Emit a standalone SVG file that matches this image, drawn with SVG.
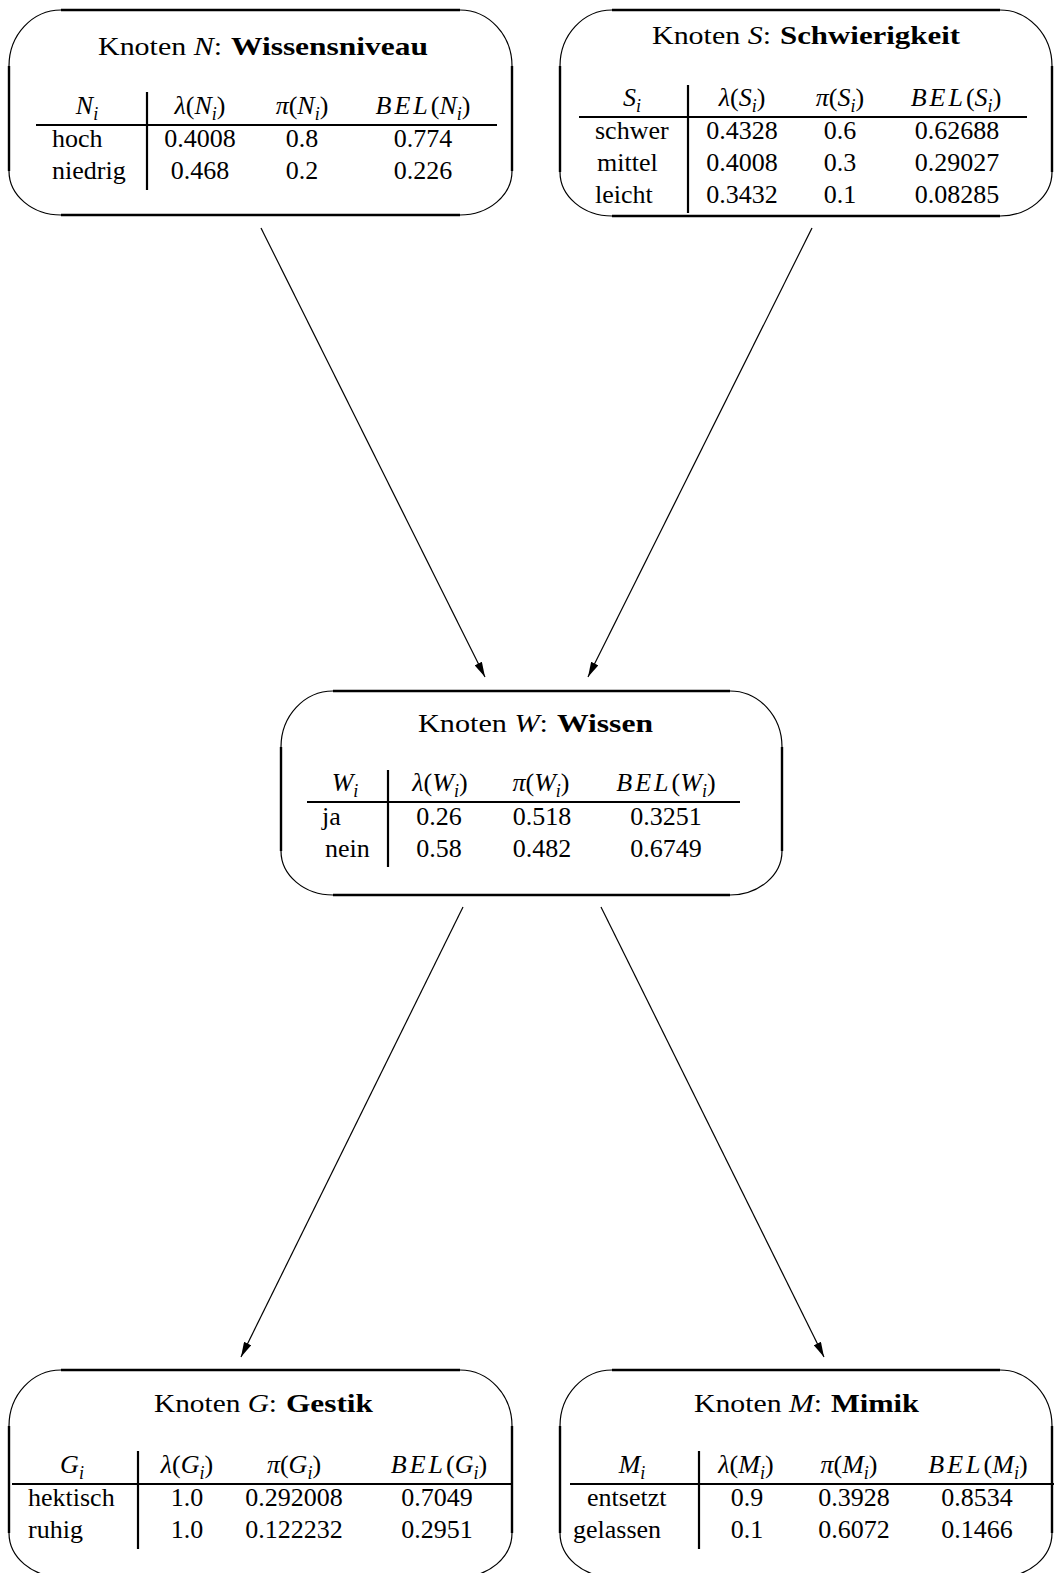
<svg xmlns="http://www.w3.org/2000/svg" width="1054" height="1573" viewBox="0 0 1054 1573">
<style>
text{font-family:"Liberation Serif","Times New Roman",serif;font-size:26px;fill:#000}
.c{text-anchor:middle}
.it{font-style:italic}
.sub{font-size:18px;font-style:italic}
.b{font-weight:bold}
.bel{font-style:italic;letter-spacing:3px}
.arc{fill:none;stroke:#000;stroke-width:1.2}
.edge{fill:none;stroke:#000;stroke-width:2.4}
.rule{stroke:#000;stroke-width:2.2}
.conn{stroke:#000;stroke-width:1.2;fill:none}
</style>
<defs>
<marker id="ah" markerWidth="15" markerHeight="8" refX="15" refY="4" orient="auto" markerUnits="userSpaceOnUse">
<path d="M0,0 L15,4 L0,8 z" fill="#000"/>
</marker>
</defs>

<g id="connectors">
<line class="conn" x1="261" y1="228" x2="485" y2="677" marker-end="url(#ah)"/>
<line class="conn" x1="812" y1="228" x2="588" y2="677" marker-end="url(#ah)"/>
<line class="conn" x1="463" y1="907" x2="241" y2="1357" marker-end="url(#ah)"/>
<line class="conn" x1="601" y1="907" x2="824" y2="1357" marker-end="url(#ah)"/>
</g>

<g id="node-N">
<path class="arc" d="M61,10 A52 56 0 0 0 9,66 M460,10 A52 56 0 0 1 512,66 M9,171 A52 44 0 0 0 61,215 M512,171 A52 44 0 0 1 460,215"/>
<path class="edge" d="M61,10 H460 M61,215 H460 M9,66 V171 M512,66 V171"/>
<text x="98" y="55" textLength="124" lengthAdjust="spacingAndGlyphs">Knoten <tspan class="it">N</tspan>:</text>
<text class="b" x="231" y="55" textLength="197" lengthAdjust="spacingAndGlyphs">Wissensniveau</text>
<line class="rule" x1="36" y1="125" x2="497" y2="125"/>
<line class="rule" x1="147" y1="92" x2="147" y2="190"/>
<text class="c" x="87" y="114"><tspan class="it">N</tspan><tspan class="sub" dy="6">i</tspan></text>
<text class="c" x="200" y="114"><tspan class="it">λ</tspan>(<tspan class="it">N</tspan><tspan class="sub" dy="6">i</tspan><tspan dy="-6">)</tspan></text>
<text class="c" x="302" y="114"><tspan class="it">π</tspan>(<tspan class="it">N</tspan><tspan class="sub" dy="6">i</tspan><tspan dy="-6">)</tspan></text>
<text class="c" x="423" y="114"><tspan class="bel">BEL</tspan>(<tspan class="it">N</tspan><tspan class="sub" dy="6">i</tspan><tspan dy="-6">)</tspan></text>
<text x="52" y="147">hoch</text>
<text class="c" x="200" y="147">0.4008</text>
<text class="c" x="302" y="147">0.8</text>
<text class="c" x="423" y="147">0.774</text>
<text x="52" y="179">niedrig</text>
<text class="c" x="200" y="179">0.468</text>
<text class="c" x="302" y="179">0.2</text>
<text class="c" x="423" y="179">0.226</text>
</g>

<g id="node-S">
<path class="arc" d="M612,10 A52 56 0 0 0 560,66 M1000,10 A52 56 0 0 1 1052,66 M560,172 A52 44 0 0 0 612,216 M1052,172 A52 44 0 0 1 1000,216"/>
<path class="edge" d="M612,10 H1000 M612,216 H1000 M560,66 V172 M1052,66 V172"/>
<text x="652" y="44" textLength="119" lengthAdjust="spacingAndGlyphs">Knoten <tspan class="it">S</tspan>:</text>
<text class="b" x="780" y="44" textLength="180" lengthAdjust="spacingAndGlyphs">Schwierigkeit</text>
<line class="rule" x1="579" y1="117" x2="1027" y2="117"/>
<line class="rule" x1="688" y1="85" x2="688" y2="213"/>
<text class="c" x="632" y="106"><tspan class="it">S</tspan><tspan class="sub" dy="6">i</tspan></text>
<text class="c" x="742" y="106"><tspan class="it">λ</tspan>(<tspan class="it">S</tspan><tspan class="sub" dy="6">i</tspan><tspan dy="-6">)</tspan></text>
<text class="c" x="840" y="106"><tspan class="it">π</tspan>(<tspan class="it">S</tspan><tspan class="sub" dy="6">i</tspan><tspan dy="-6">)</tspan></text>
<text class="c" x="956" y="106"><tspan class="bel">BEL</tspan>(<tspan class="it">S</tspan><tspan class="sub" dy="6">i</tspan><tspan dy="-6">)</tspan></text>
<text x="595" y="139">schwer</text>
<text class="c" x="742" y="139">0.4328</text>
<text class="c" x="840" y="139">0.6</text>
<text class="c" x="957" y="139">0.62688</text>
<text x="597" y="171">mittel</text>
<text class="c" x="742" y="171">0.4008</text>
<text class="c" x="840" y="171">0.3</text>
<text class="c" x="957" y="171">0.29027</text>
<text x="595" y="203">leicht</text>
<text class="c" x="742" y="203">0.3432</text>
<text class="c" x="840" y="203">0.1</text>
<text class="c" x="957" y="203">0.08285</text>
</g>

<g id="node-W">
<path class="arc" d="M333,691 A52 56 0 0 0 281,747 M730,691 A52 56 0 0 1 782,747 M281,851 A52 44 0 0 0 333,895 M782,851 A52 44 0 0 1 730,895"/>
<path class="edge" d="M333,691 H730 M333,895 H730 M281,747 V851 M782,747 V851"/>
<text x="418" y="732" textLength="130" lengthAdjust="spacingAndGlyphs">Knoten <tspan class="it">W</tspan>:</text>
<text class="b" x="557" y="732" textLength="96" lengthAdjust="spacingAndGlyphs">Wissen</text>
<line class="rule" x1="307" y1="802" x2="740" y2="802"/>
<line class="rule" x1="388" y1="770" x2="388" y2="867"/>
<text class="c" x="345" y="791"><tspan class="it">W</tspan><tspan class="sub" dy="6">i</tspan></text>
<text class="c" x="440" y="791"><tspan class="it">λ</tspan>(<tspan class="it">W</tspan><tspan class="sub" dy="6">i</tspan><tspan dy="-6">)</tspan></text>
<text class="c" x="541" y="791"><tspan class="it">π</tspan>(<tspan class="it">W</tspan><tspan class="sub" dy="6">i</tspan><tspan dy="-6">)</tspan></text>
<text class="c" x="666" y="791"><tspan class="bel">BEL</tspan>(<tspan class="it">W</tspan><tspan class="sub" dy="6">i</tspan><tspan dy="-6">)</tspan></text>
<text x="322" y="825">ja</text>
<text class="c" x="439" y="825">0.26</text>
<text class="c" x="542" y="825">0.518</text>
<text class="c" x="666" y="825">0.3251</text>
<text x="325" y="857">nein</text>
<text class="c" x="439" y="857">0.58</text>
<text class="c" x="542" y="857">0.482</text>
<text class="c" x="666" y="857">0.6749</text>
</g>

<g id="node-G">
<path class="arc" d="M61,1370 A52 56 0 0 0 9,1426 M460,1370 A52 56 0 0 1 512,1426 M9,1533 A52 44 0 0 0 61,1577 M512,1533 A52 44 0 0 1 460,1577"/>
<path class="edge" d="M61,1370 H460 M61,1577 H460 M9,1426 V1533 M512,1426 V1533"/>
<text x="154" y="1412" textLength="123" lengthAdjust="spacingAndGlyphs">Knoten <tspan class="it">G</tspan>:</text>
<text class="b" x="286" y="1412" textLength="87" lengthAdjust="spacingAndGlyphs">Gestik</text>
<line class="rule" x1="12" y1="1484" x2="511" y2="1484"/>
<line class="rule" x1="138" y1="1451" x2="138" y2="1549"/>
<text class="c" x="72" y="1473"><tspan class="it">G</tspan><tspan class="sub" dy="6">i</tspan></text>
<text class="c" x="187" y="1473"><tspan class="it">λ</tspan>(<tspan class="it">G</tspan><tspan class="sub" dy="6">i</tspan><tspan dy="-6">)</tspan></text>
<text class="c" x="294" y="1473"><tspan class="it">π</tspan>(<tspan class="it">G</tspan><tspan class="sub" dy="6">i</tspan><tspan dy="-6">)</tspan></text>
<text class="c" x="439" y="1473"><tspan class="bel">BEL</tspan>(<tspan class="it">G</tspan><tspan class="sub" dy="6">i</tspan><tspan dy="-6">)</tspan></text>
<text x="28" y="1506">hektisch</text>
<text class="c" x="187" y="1506">1.0</text>
<text class="c" x="294" y="1506">0.292008</text>
<text class="c" x="437" y="1506">0.7049</text>
<text x="28" y="1538">ruhig</text>
<text class="c" x="187" y="1538">1.0</text>
<text class="c" x="294" y="1538">0.122232</text>
<text class="c" x="437" y="1538">0.2951</text>
</g>

<g id="node-M">
<path class="arc" d="M612,1370 A52 56 0 0 0 560,1426 M1000,1370 A52 56 0 0 1 1052,1426 M560,1533 A52 44 0 0 0 612,1577 M1052,1533 A52 44 0 0 1 1000,1577"/>
<path class="edge" d="M612,1370 H1000 M612,1577 H1000 M560,1426 V1533 M1052,1426 V1533"/>
<text x="694" y="1412" textLength="128" lengthAdjust="spacingAndGlyphs">Knoten <tspan class="it">M</tspan>:</text>
<text class="b" x="831" y="1412" textLength="88" lengthAdjust="spacingAndGlyphs">Mimik</text>
<line class="rule" x1="570" y1="1484" x2="1054" y2="1484"/>
<line class="rule" x1="699" y1="1451" x2="699" y2="1549"/>
<text class="c" x="632" y="1473"><tspan class="it">M</tspan><tspan class="sub" dy="6">i</tspan></text>
<text class="c" x="746" y="1473"><tspan class="it">λ</tspan>(<tspan class="it">M</tspan><tspan class="sub" dy="6">i</tspan><tspan dy="-6">)</tspan></text>
<text class="c" x="849" y="1473"><tspan class="it">π</tspan>(<tspan class="it">M</tspan><tspan class="sub" dy="6">i</tspan><tspan dy="-6">)</tspan></text>
<text class="c" x="978" y="1473"><tspan class="bel">BEL</tspan>(<tspan class="it">M</tspan><tspan class="sub" dy="6">i</tspan><tspan dy="-6">)</tspan></text>
<text x="587" y="1506">entsetzt</text>
<text class="c" x="747" y="1506">0.9</text>
<text class="c" x="854" y="1506">0.3928</text>
<text class="c" x="977" y="1506">0.8534</text>
<text x="573" y="1538">gelassen</text>
<text class="c" x="747" y="1538">0.1</text>
<text class="c" x="854" y="1538">0.6072</text>
<text class="c" x="977" y="1538">0.1466</text>
</g>
</svg>
